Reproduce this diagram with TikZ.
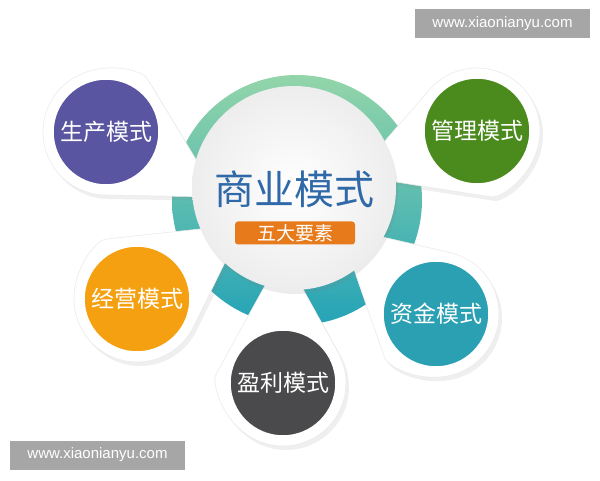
\documentclass[tikz,border=0pt]{standalone}
\usepackage{fontspec}
\newfontfamily\cjk{Noto Sans CJK SC}
\newfontfamily\wmfont{Liberation Sans}
\usetikzlibrary{shadows}

\definecolor{prodpurple}{HTML}{5A55A0}
\definecolor{mgmtgreen}{HTML}{4B8A1D}
\definecolor{opsorange}{HTML}{F5A010}
\definecolor{profitgray}{HTML}{4A4A4C}
\definecolor{fundteal}{HTML}{2AA0B2}
\definecolor{ringgreen}{HTML}{93D5A9}
\definecolor{ringteal}{HTML}{24A3B7}
\definecolor{titleblue}{HTML}{2F69A8}
\definecolor{tagorange}{HTML}{E77B1C}
\definecolor{wmgray}{HTML}{A6A6A6}

\tikzset{
  petal/.style={fill=white, draw=black!8, line width=0.6pt,
    drop shadow={opacity=0.12, shadow xshift=3pt, shadow yshift=-4pt}},
  ball/.style={circle, minimum size=106pt, inner sep=0pt, draw=white, line width=1.5pt,
    text=white, font=\cjk\fontsize{23}{23}\selectfont},
  mark box/.style={fill=wmgray, text=white, minimum width=175pt, minimum height=29pt,
    font=\wmfont\fontsize{15}{15}\selectfont}
}

\begin{document}
\begin{tikzpicture}[x=1pt,y=1pt]
\useasboundingbox (0,0) rectangle (600,480);
\fill[white] (0,0) rectangle (600,480);

% ring behind everything
\shade[top color=ringgreen, bottom color=ringteal] (297,280) circle[radius=125];

% white drops, tips towards the middle
\begin{scope}[shift={(106,348)}]
  \path[petal] (-91.5:63) [rounded corners=24pt] -- (-30:130) -- (31.5:63) [sharp corners]
    arc[start angle=31.5, end angle=268.5, radius=63] -- cycle;
\end{scope}
\begin{scope}[shift={(477,349)}]
  \path[petal] (138.5:63) [rounded corners=24pt] -- (200:130) -- (261.5:63) [sharp corners]
    arc[start angle=261.5, end angle=498.5, radius=63] -- cycle;
\end{scope}
\begin{scope}[shift={(137,181)}]
  \path[petal] (-26.5:63) [rounded corners=24pt] -- (35:130) -- (96.5:63) [sharp corners]
    arc[start angle=96.5, end angle=333.5, radius=63] -- cycle;
\end{scope}
\begin{scope}[shift={(436,166)}]
  \path[petal] (76.5:63) [rounded corners=24pt] -- (138:130) -- (199.5:63) [sharp corners]
    arc[start angle=199.5, end angle=436.5, radius=63] -- cycle;
\end{scope}
\begin{scope}[shift={(283,97)}]
  \path[petal] (28.5:63) [rounded corners=24pt] -- (90:130) -- (151.5:63) [sharp corners]
    arc[start angle=151.5, end angle=388.5, radius=63] -- cycle;
\end{scope}

% centre disc
\node[circle, minimum size=204pt, inner sep=0pt, inner color=white, outer color=black!7,
  drop shadow={opacity=0.15, shadow xshift=2pt, shadow yshift=-4pt}] (hub) at (294,292) {};
\node[text=titleblue, font=\cjk\fontsize{40}{40}\selectfont] (title) at (294,291) {商业模式};
\node[fill=tagorange, rounded corners=3pt, minimum width=120pt, minimum height=23pt,
  inner sep=0pt, text=white, font=\cjk\fontsize{19}{19}\selectfont] (tag) at (295,247) {五大要素};

% five coloured balls
\node[ball, fill=prodpurple] (prod) at (106,348) {生产模式};
\node[ball, fill=mgmtgreen] (mgmt) at (477,349) {管理模式};
\node[ball, fill=opsorange] (ops) at (137,181) {经营模式};
\node[ball, fill=fundteal] (fund) at (436,166) {资金模式};
\node[ball, fill=profitgray] (profit) at (283,97) {盈利模式};

% watermarks
\node[mark box] (wmtop) at (502.5,456) {www.xiaonianyu.com};
\node[mark box] (wmbottom) at (97.5,25) {www.xiaonianyu.com};
\end{tikzpicture}
\end{document}
